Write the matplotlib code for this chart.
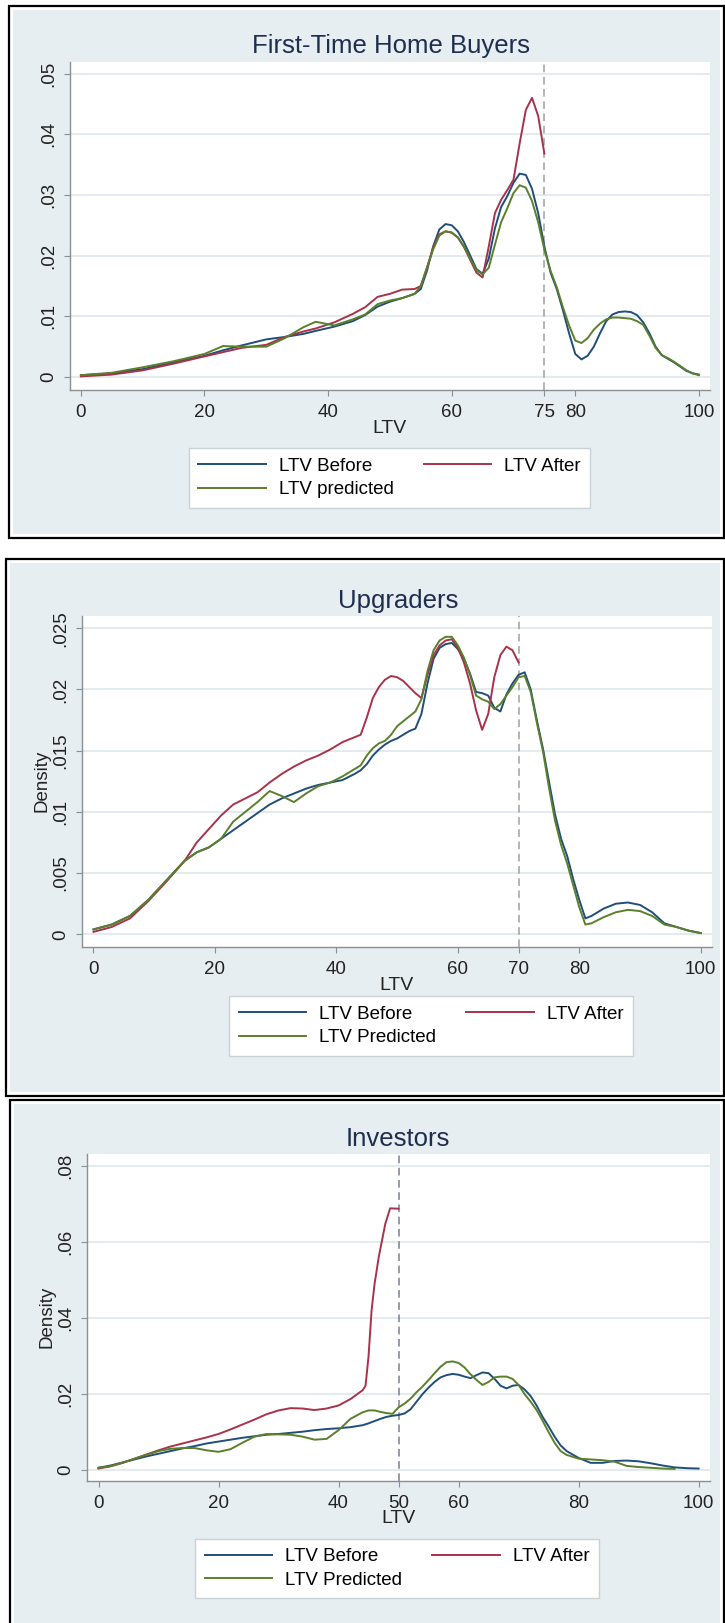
import numpy as np
import matplotlib.pyplot as plt
from matplotlib.patches import Rectangle

plt.rcParams['font.family'] = ['Liberation Sans', 'DejaVu Sans']

# ---- First-Time Home Buyers ----
ltv_ftb = [0, 5, 10, 15, 20, 23, 26, 30, 33, 36, 38, 41, 44, 46, 48, 50, 52, 54, 55, 56,
           57, 58, 59, 60, 61, 62, 63, 64, 65, 66, 67, 68, 69, 70, 71, 72, 73, 74, 75, 76,
           77, 78, 79, 80, 81, 82, 83, 84, 85, 86, 87, 88, 89, 90, 91, 92, 93, 94, 95, 96,
           97, 98, 99, 100]
ftb_before = [.0003, .0006, .0013, .0024, .0035, .0044, .0052, .0062, .0066, .0071, .0076, .0083,
              .0092, .0102, .0116, .0124, .0130, .0137, .0145, .0175, .0215, .0243, .0252, .0250,
              .0240, .0222, .0200, .0178, .0170, .0195, .0245, .0280, .0298, .0320, .0335, .0333,
              .0310, .0270, .0215, .0172, .0145, .0110, .0072, .0038, .0029, .0035, .0050, .0072,
              .0092, .0103, .0107, .0108, .0107, .0102, .0090, .0072, .0050, .0036, .0030, .0024,
              .0017, .0010, .0006, .0004]
ftb_pred = [.0003, .0007, .0016, .0026, .0038, .0051, .0050, .0050, .0064, .0082, .0091, .0085,
            .0095, .0103, .0120, .0126, .0130, .0137, .0150, .0180, .0210, .0233, .0240, .0238,
            .0230, .0215, .0195, .0176, .0169, .0180, .0218, .0255, .0278, .0303, .0316, .0312,
            .0290, .0255, .0210, .0175, .0148, .0115, .0085, .0060, .0056, .0064, .0078, .0088,
            .0095, .0098, .0098, .0097, .0096, .0092, .0086, .0068, .0048, .0036, .0031, .0025,
            .0018, .0011, .0006, .0003]
ltv_ftb_after = ltv_ftb[:39]
ftb_after = [.0001, .0004, .0011, .0022, .0034, .0041, .0048, .0053, .0066, .0075, .0080, .0090,
             .0104, .0115, .0132, .0137, .0144, .0145, .0150, .0180, .0213, .0235, .0240, .0238,
             .0230, .0214, .0193, .0172, .0164, .0215, .0270, .0292, .0308, .0325, .0385, .0440,
             .0460, .0430, .0368]

# ---- Upgraders ----
ltv_upg = [0, 3, 6, 9, 12, 15, 17, 19, 21, 23, 25, 27, 29, 31, 33, 35, 37, 39, 41, 43, 44, 45,
           46, 47, 48, 49, 50, 51, 52, 53, 54, 55, 56, 57, 58, 59, 60, 61, 62, 63, 64, 65, 66,
           67, 68, 69, 70, 71, 72, 73, 74, 75, 76, 77, 78, 79, 80, 81, 82, 84, 86, 88, 90, 92,
           94, 96, 98, 100]
upg_before = [.0004, .0008, .0015, .0028, .0044, .0060, .0067, .0071, .0078, .0085, .0092, .0099,
              .0106, .0111, .0115, .0119, .0122, .0124, .0126, .0131, .0134, .0139, .0146, .0151,
              .0155, .0158, .0160, .0163, .0166, .0168, .0180, .0205, .0225, .0234, .0237, .0238,
              .0233, .0225, .0213, .0198, .0197, .0195, .0185, .0182, .0196, .0205, .0212, .0214,
              .0200, .0175, .0152, .0125, .0098, .0078, .0064, .0045, .0028, .0013, .0015, .0021,
              .0025, .0026, .0024, .0018, .0009, .0006, .0003, .0001]
upg_pred = [.0004, .0008, .0015, .0028, .0044, .0060, .0067, .0071, .0078, .0092, .0100, .0108,
            .0117, .0113, .0108, .0115, .0121, .0124, .0129, .0135, .0138, .0146, .0152, .0156,
            .0158, .0163, .0170, .0174, .0178, .0182, .0192, .0215, .0232, .0240, .0243, .0243,
            .0236, .0226, .0212, .0195, .0192, .0190, .0184, .0188, .0195, .0202, .0210, .0211,
            .0198, .0173, .0150, .0120, .0093, .0073, .0058, .0040, .0022, .0008, .0009, .0014,
            .0018, .0020, .0019, .0015, .0008, .0006, .0003, .0001]
ltv_upg_after = ltv_upg[:47]
upg_after = [.0002, .0006, .0013, .0027, .0043, .0060, .0075, .0086, .0097, .0106, .0111, .0116,
             .0124, .0131, .0137, .0142, .0146, .0151, .0157, .0161, .0163, .0177, .0193, .0202,
             .0208, .0211, .0210, .0207, .0202, .0197, .0193, .0212, .0228, .0236, .0240, .0241,
             .0234, .0222, .0205, .0183, .0167, .0180, .0210, .0228, .0235, .0232, .0222]

# ---- Investors ----
ltv_inv = [0, 2, 4, 6, 8, 10, 12, 14, 16, 18, 20, 22, 24, 26, 28, 30, 32, 34, 36, 38, 40, 42,
           44, 45, 46, 47, 48, 49, 50, 51, 52, 53, 54, 55, 56, 57, 58, 59, 60, 61, 62, 63, 64,
           65, 66, 67, 68, 69, 70, 71, 72, 73, 74, 75, 76, 77, 78, 80, 82, 84, 86, 88, 90, 92,
           94, 96, 98, 100]
inv_before = [.0006, .0012, .0020, .0028, .0036, .0043, .0050, .0057, .0063, .0070, .0075, .0080,
              .0085, .0089, .0093, .0095, .0098, .0101, .0105, .0108, .0110, .0113, .0118, .0123,
              .0129, .0135, .0140, .0143, .0145, .0149, .0160, .0180, .0200, .0217, .0232, .0244,
              .0250, .0253, .0251, .0246, .0242, .0250, .0257, .0255, .0240, .0222, .0215, .0222,
              .0224, .0212, .0195, .0170, .0140, .0115, .0088, .0065, .0050, .0032, .0019, .0019,
              .0024, .0025, .0023, .0018, .0012, .0007, .0005, .0004]
ltv_inv_pred = ltv_inv[:66]
inv_pred = [.0006, .0010, .0019, .0030, .0040, .0050, .0056, .0058, .0058, .0052, .0048, .0055,
            .0072, .0088, .0095, .0094, .0093, .0088, .0080, .0082, .0105, .0135, .0152, .0157,
            .0157, .0153, .0150, .0148, .0165, .0175, .0188, .0205, .0220, .0237, .0255, .0272,
            .0284, .0286, .0282, .0270, .0252, .0237, .0224, .0232, .0244, .0246, .0246, .0240,
            .0224, .0200, .0180, .0158, .0130, .0100, .0072, .0050, .0040, .0030, .0028, .0026,
            .0022, .0011, .0008, .0006, .0004, .0003]
ltv_inv_after = [0, 2, 4, 6, 8, 10, 12, 14, 16, 18, 20, 22, 24, 26, 28, 30, 32, 34, 36, 38, 40,
                 42, 44, 44.5, 45, 45.5, 46, 46.7, 47.8, 48.6, 50]
inv_after = [.0004, .0010, .0019, .0030, .0041, .0052, .0062, .0070, .0078, .0086, .0095, .0107,
             .0120, .0133, .0147, .0157, .0163, .0162, .0158, .0162, .0170, .0187, .0210, .0222,
             .0300, .0420, .0490, .0561, .0649, .0689, .0688]

C_BEFORE = '#1f4e79'
C_AFTER = '#a8324a'
C_PRED = '#5b7f2b'
BG = '#e7eef1'
W, H = 725, 1623

fig = plt.figure(figsize=(W / 100, H / 100), dpi=100, facecolor='white')


def rect(l, t, r, b):
    return (l / W, 1 - b / H), (r - l) / W, (b - t) / H


# outer frames with the light blue graph region
for l, t, r, b in [(8.5, 6, 724, 538), (6, 559, 724, 1096), (10, 1100, 724, 1640)]:
    xy, w, h = rect(l, t, r, b)
    fig.add_artist(Rectangle(xy, w, h, transform=fig.transFigure, facecolor='white',
                             edgecolor='black', lw=1.6, zorder=0))
    xy, w, h = rect(l + 4, t + 4, r - 4, b - 4)
    fig.add_artist(Rectangle(xy, w, h, transform=fig.transFigure, facecolor=BG,
                             edgecolor='none', zorder=0))


def panel(box, xlim, ylim, yticks, ylabels, xticks, cut, title, title_xy, legend_xy,
          pred_label, density, x, before, pred, x_pred, x_after, after, cut_color):
    l, t, r, b = box
    ax = fig.add_axes([l / W, 1 - b / H, (r - l) / W, (b - t) / H])
    ax.set_facecolor('white')
    ax.set_xlim(*xlim)
    ax.set_ylim(*ylim)
    for s in ['top', 'right']:
        ax.spines[s].set_visible(False)
    for s in ['left', 'bottom']:
        ax.spines[s].set_color('#8a8f93')
        ax.spines[s].set_linewidth(1.0)
    ax.set_yticks(yticks)
    ax.set_yticklabels(ylabels, rotation=90, va='center')
    ax.set_xticks(xticks)
    ax.tick_params(axis='both', colors='#8a8f93', labelcolor='#222222', labelsize=13.5,
                   length=4, width=0.8)
    ax.tick_params(axis='y', pad=5)
    ax.tick_params(axis='x', pad=6)
    for yv in yticks:
        ax.axhline(yv, color='#e4ebee', lw=1.5, zorder=1)
    ax.axvline(cut, color=cut_color, lw=1.1, ls=(0, (5, 3)), zorder=2)

    lb, = ax.plot(x, before, color=C_BEFORE, lw=1.4, zorder=3, label='LTV Before')
    lp, = ax.plot(x_pred, pred, color=C_PRED, lw=1.4, zorder=4, label=pred_label)
    la, = ax.plot(x_after, after, color=C_AFTER, lw=1.4, zorder=3, label='LTV After')

    ax.set_xlabel('LTV', fontsize=14, color='#222222', va='center')
    ax.xaxis.set_label_coords(0.5, -0.117)
    if density:
        ax.set_ylabel('Density', fontsize=13.5, color='#222222', va='center')
        ax.yaxis.set_label_coords(-0.063, 0.5)

    fig.text(title_xy[0] / W, 1 - title_xy[1] / H, title, fontsize=18.5, color='#1f2d4e',
             ha='center', va='center')

    leg = fig.legend([lb, lp, la], ['LTV Before', pred_label, 'LTV After'], ncol=2,
                     loc='center', bbox_to_anchor=(legend_xy[0] / W, 1 - legend_xy[1] / H),
                     fontsize=13.5, frameon=True, fancybox=False, handlelength=3.6,
                     handletextpad=0.7, columnspacing=1.6, labelspacing=0.35,
                     borderpad=0.5, edgecolor='#c9d2d6', framealpha=1)
    leg.get_frame().set_linewidth(1.0)
    return ax


panel((70, 62, 710, 390), (-1.76, 101.8), (-0.00214, 0.0519),
      [0, .01, .02, .03, .04, .05], ['0', '.01', '.02', '.03', '.04', '.05'],
      [0, 20, 40, 60, 75, 80, 100], 75, 'First-Time Home Buyers', (391, 46.5), (389.5, 478),
      'LTV predicted', False, ltv_ftb, ftb_before, ftb_pred, ltv_ftb, ltv_ftb_after, ftb_after,
      '#a0a0a0')

panel((81.7, 616, 711.7, 946.7), (-1.94, 101.8), (-0.00101, 0.026),
      [0, .005, .01, .015, .02, .025], ['0', '.005', '.01', '.015', '.02', '.025'],
      [0, 20, 40, 60, 70, 80, 100], 70, 'Upgraders', (398, 600.7), (431, 1026),
      'LTV Predicted', True, ltv_upg, upg_before, upg_pred, ltv_upg, ltv_upg_after, upg_after,
      '#a0a0a0')

panel((86.7, 1154, 710, 1480.7), (-1.97, 101.9), (-0.0028, 0.0832),
      [0, .02, .04, .06, .08], ['0', '.02', '.04', '.06', '.08'],
      [0, 20, 40, 50, 60, 80, 100], 50, 'Investors', (398, 1139), (397, 1568.5),
      'LTV Predicted', True, ltv_inv, inv_before, inv_pred, ltv_inv_pred, ltv_inv_after,
      inv_after, '#7a7f96')

fig.savefig('out.png', dpi=100, facecolor='white')
